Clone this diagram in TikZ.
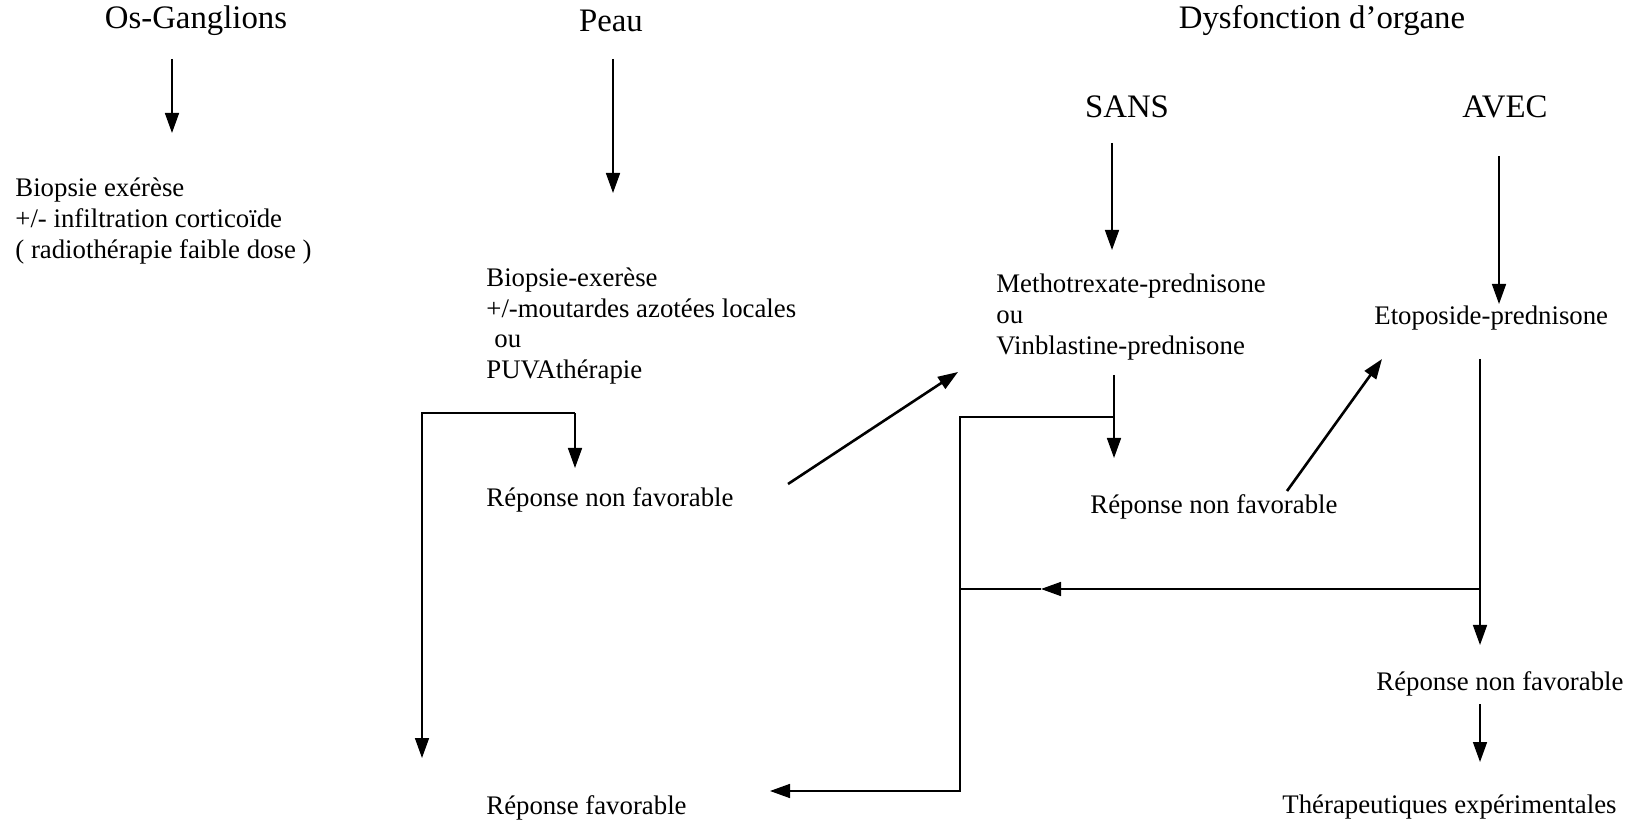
\documentclass[tikz,border=0pt]{standalone}
\usepackage{fontspec}
\setmainfont{Liberation Serif}
\usetikzlibrary{arrows.meta,positioning}

\tikzset{
  titre/.style={font=\fontsize{16.4}{20}\selectfont, inner sep=0pt},
  petit/.style={font=\fontsize{13.4}{15.3}\selectfont, align=left, inner sep=0pt, anchor=west},
  trait/.style={line width=0.8pt},
  fleche/.style={trait, -{Triangle[length=10pt,width=7pt]}},
  oblique/.style={line width=1.3pt, -{Triangle[length=10pt,width=7pt]}},
}

\begin{document}
\begin{tikzpicture}[x=0.5pt,y=-0.5pt]
\useasboundingbox (0,0) rectangle (1632,822);

% Titres
\node[titre] (osg) at (196,21) {Os-Ganglions};
\node[titre] (peau) at (611,21) {Peau};
\node[titre] (dysf) at (1322,21) {Dysfonction d’organe};
\node[titre] (sans) at (1127,107) {SANS};
\node[titre] (avec) at (1505,107) {AVEC};

% Traitements
\node[petit] (bio) at (15,221) {Biopsie exérèse\\+/- infiltration corticoïde\\( radiothérapie faible dose )};
\node[petit] (bioex) at (486,326) {Biopsie-exerèse\\+/-moutardes azotées locales\\\hspace{0.3em}ou\\PUVAthérapie};
\node[petit] (metho) at (996,317) {Methotrexate-prednisone\\ou\\Vinblastine-prednisone};
\node[petit] (eto) at (1374,318) {Etoposide-prednisone};

% Reponses
\node[petit] (rnfa) at (486,500) {Réponse non favorable};
\node[petit] (rnfb) at (1090,507) {Réponse non favorable};
\node[petit] (rnfc) at (1376,684) {Réponse non favorable};
\node[petit] (rf) at (486,808) {Réponse favorable};
\node[petit] (exp) at (1282,807) {Thérapeutiques expérimentales};

% Points
\coordinate (os1) at (172,59);
\coordinate (pe1) at (613,59);
\coordinate (pu1) at (575,413);
\coordinate (gau) at (422,413);
\coordinate (sa1) at (1112,143);
\coordinate (av1) at (1499,156);
\coordinate (me1) at (1114,375);
\coordinate (me2) at (1114,417);
\coordinate (mil) at (960,417);
\coordinate (mib) at (960,791);
\coordinate (et1) at (1480,359);
\coordinate (et2) at (1480,589);
\coordinate (mic) at (960,589);
\coordinate (tip) at (1041,589);

% Fleches
\draw[fleche] (os1) -- (172,133);
\draw[fleche] (pe1) -- (613,193);
\draw[fleche] (pu1) -- (575,468);
\draw[fleche] (pu1) -- (gau) -- (422,758);
\draw[oblique] (788,484) -- (958,372);
\draw[fleche] (sa1) -- (1112,250);
\draw[fleche] (av1) -- (1499,304);
\draw[fleche] (me1) -- (1114,458);
\draw[fleche] (me2) -- (mil) -- (mib) -- (770,791);
\draw[oblique] (1287,491) -- (1382,359);
\draw[fleche] (et1) -- (1480,645);
\draw[trait] (tip) -- (mic);
\draw[fleche] (et2) -- (tip);
\draw[fleche] (1480,704) -- (1480,762);
\end{tikzpicture}
\end{document}
